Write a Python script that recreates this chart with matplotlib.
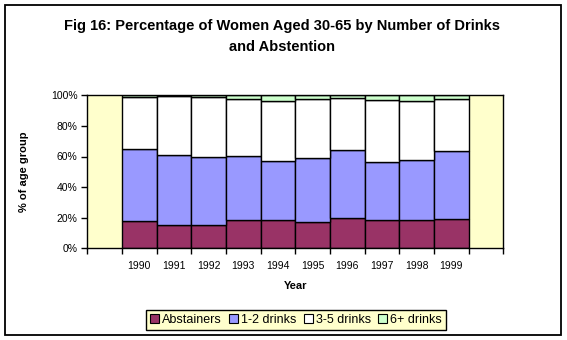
import matplotlib
matplotlib.use("Agg")
import matplotlib.pyplot as plt
from matplotlib.patches import Rectangle, Patch
import numpy as np

plt.rcParams['font.family'] = ['Liberation Sans', 'DejaVu Sans']

categories = ["", "1990", "1991", "1992", "1993", "1994", "1995", "1996", "1997", "1998", "1999", ""]
years = ["1990", "1991", "1992", "1993", "1994", "1995", "1996", "1997", "1998", "1999"]
abstainers = [17.6, 15.0, 15.0, 18.3, 18.3, 17.0, 19.6, 18.3, 18.3, 19.0]
drinks_1_2 = [47.1, 45.8, 44.5, 41.8, 38.6, 41.8, 44.5, 37.9, 39.2, 44.4]
drinks_3_5 = [34.0, 38.5, 39.2, 37.3, 39.2, 38.6, 33.9, 40.5, 38.6, 34.0]
drinks_6p = [1.3, 0.7, 1.3, 2.6, 3.9, 2.6, 2.0, 3.3, 3.9, 2.6]
series_names = ["Abstainers", "1-2 drinks", "3-5 drinks", "6+ drinks"]
colors = ["#993366", "#9999FF", "#FFFFFF", "#CCFFCC"]
yticks = [0, 20, 40, 60, 80, 100]
ytick_labels = ["0%", "20%", "40%", "60%", "80%", "100%"]

fig = plt.figure(figsize=(5.67, 3.40), dpi=100)
fig.patch.set_facecolor("white")
# outer border
fig.add_artist(Rectangle((5/567, 5/340), 556/567, 330/340, transform=fig.transFigure,
                         fill=False, edgecolor="black", lw=1.3))

ax = fig.add_axes([87.3/567, 1-248.3/340, 416/567, 153/340])
ax.set_facecolor("#FFFFCC")

x = np.arange(1, len(years) + 1)
bottom = np.zeros(len(years))
data = [abstainers, drinks_1_2, drinks_3_5, drinks_6p]
for vals, col, name in zip(data, colors, series_names):
    ax.bar(x, vals, width=1.0, bottom=bottom, color=col, edgecolor="black",
           linewidth=1.0, label=name)
    bottom += np.array(vals)

ax.set_xlim(-0.5, len(categories) - 0.5)
ax.set_ylim(0, 100)
ax.set_yticks(yticks)
ax.set_yticklabels(ytick_labels, fontsize=7.5)
ax.set_xticks(np.arange(-0.5, len(categories) + 0.5, 1.0))
ax.set_xticklabels([])
ax.set_xticks(x, minor=True)
ax.set_xticklabels(years, minor=True, fontsize=7.5)
ax.tick_params(axis="x", which="minor", length=0, pad=9)
ax.tick_params(axis="x", which="major", length=4, width=1, direction="out")
ax.tick_params(axis="y", length=4, width=1, direction="out", pad=3)
for s in ax.spines.values():
    s.set_linewidth(1.0)
    s.set_color("black")

ax.set_ylabel("% of age group", fontsize=8, fontweight="bold", labelpad=16)
ax.set_xlabel("Year", fontsize=8, fontweight="bold", labelpad=7)

fig.text(282/567, 1-26/340, "Fig 16: Percentage of Women Aged 30-65 by Number of Drinks",
         ha="center", va="center", fontsize=10.5, fontweight="bold")
fig.text(282/567, 1-47/340, "and Abstention",
         ha="center", va="center", fontsize=10.5, fontweight="bold")

handles = [Patch(facecolor=c, edgecolor="black", linewidth=0.8) for c in colors]
leg = fig.legend(handles, series_names, loc="center", bbox_to_anchor=(296/567, 1-320/340),
                 ncol=4, fontsize=9, frameon=True, fancybox=False, handlelength=0.7,
                 handleheight=0.7, handletextpad=0.25, columnspacing=0.6,
                 borderpad=0.3)
leg.get_frame().set_facecolor("#FFFFCC")
leg.get_frame().set_edgecolor("black")
leg.get_frame().set_linewidth(1.0)
leg.get_frame().set_alpha(1)

fig.savefig("out.png", dpi=100)
